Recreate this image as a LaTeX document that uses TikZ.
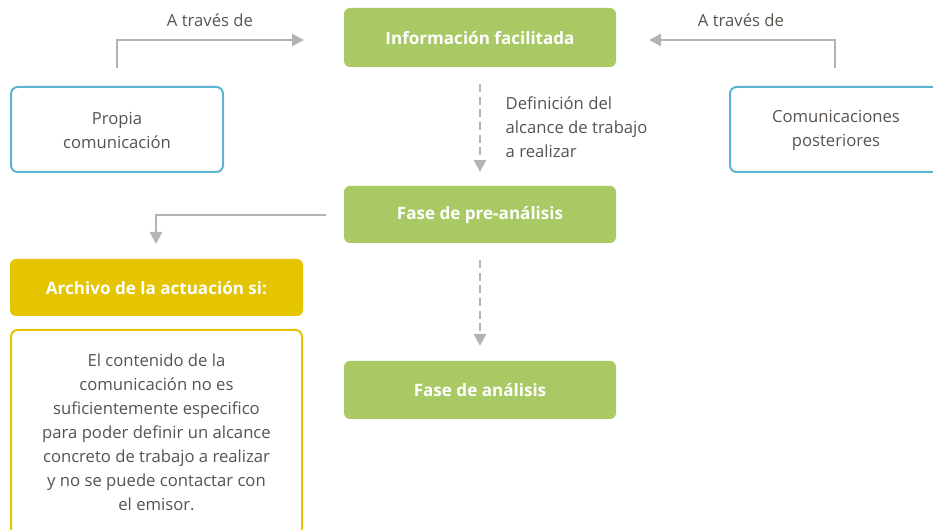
\documentclass[tikz,border=0pt]{standalone}
\usepackage{fontspec}
\setmainfont{Open Sans}
\usetikzlibrary{arrows.meta}
\definecolor{greenbox}{HTML}{A8C964}
\definecolor{bluebd}{HTML}{5BB5D2}
\definecolor{yellowbox}{HTML}{E5C400}
\definecolor{arrowgray}{HTML}{B4B4B4}
\definecolor{txt}{HTML}{58534E}
\tikzset{
  greennode/.style={fill=greenbox, rounded corners=4.5pt, text=white, font=\bfseries\fontsize{12.8}{15}\selectfont, align=center},
  bluenode/.style={draw=bluebd, line width=1.5pt, rounded corners=5pt, fill=white, text=txt, align=center},
  yellownode/.style={fill=yellowbox, rounded corners=4.5pt, text=white, font=\bfseries\fontsize{12.8}{15}\selectfont, align=center},
  yellowbody/.style={draw=yellowbox, line width=1.5pt, rounded corners=5pt, fill=white},
  graytext/.style={text=txt, font=\fontsize{12.5}{18}\selectfont},
  grayarrow/.style={draw=arrowgray, line width=2pt, -{Triangle[length=9pt,width=9pt]}},
  dasharrow/.style={draw=arrowgray, line width=2pt, dash pattern=on 6pt off 3.5pt, -{Triangle[length=9pt,width=9pt]}}
}
\begin{document}
\begin{tikzpicture}[x=0.75pt,y=-0.75pt]
\useasboundingbox (0,0) rectangle (933,530);
% green boxes
\path[greennode] (344,8) rectangle (616,67);
\node[greennode] (info) at (480,38) {Información facilitada};
\path[greennode] (344,186) rectangle (616,243);
\node[greennode] (pre) at (480,215) {Fase de pre-análisis};
\path[greennode] (344,361) rectangle (616,419);
\node[greennode] (ana) at (480,390.5) {Fase de análisis};
% blue boxes
\draw[bluenode] (11,87) rectangle (223,172);
\node[graytext, align=center] (propia) at (117,130) {Propia\\comunicación};
\draw[bluenode] (730,87) rectangle (940,172);
\node[graytext, align=center] (posteriores) at (836,130) {Comunicaciones\\posteriores};
% yellow
\path[yellownode] (10,259) rectangle (303,316);
\node[yellownode] (archivo) at (156.5,288) {Archivo de la actuación si:};
\draw[yellowbody] (11,330) rectangle (302,545);
\node[graytext, align=center] (cond) at (156.5,432) {El contenido de la\\comunicación no es\\suficientemente especifico\\para poder definir un alcance\\concreto de trabajo a realizar\\y no se puede contactar con\\el emisor.};
% coordinates
\coordinate (l0) at (117,68);
\coordinate (l1) at (117,40);
\coordinate (l2) at (304,40);
\coordinate (r0) at (835,68);
\coordinate (r1) at (835,40);
\coordinate (r2) at (649,40);
\coordinate (d1s) at (480,84);
\coordinate (d1e) at (480,172);
\coordinate (d2s) at (480,260);
\coordinate (d2e) at (480,346);
\coordinate (a0) at (326,215);
\coordinate (a1) at (156,215);
\coordinate (a2) at (156,244);
\draw[grayarrow] (l0) -- (l1) -- (l2);
\draw[grayarrow] (r0) -- (r1) -- (r2);
\draw[dasharrow] (d1s) -- (d1e);
\draw[dasharrow] (d2s) -- (d2e);
\draw[grayarrow] (a0) -- (a1) -- (a2);
% labels
\node[graytext] (t1) at (210,20.5) {A través de};
\node[graytext] (t2) at (741,20.5) {A través de};
\node[graytext, align=left, anchor=north west] (def) at (501,92.5) {Definición del\\alcance de trabajo\\a realizar};
\end{tikzpicture}
\end{document}
